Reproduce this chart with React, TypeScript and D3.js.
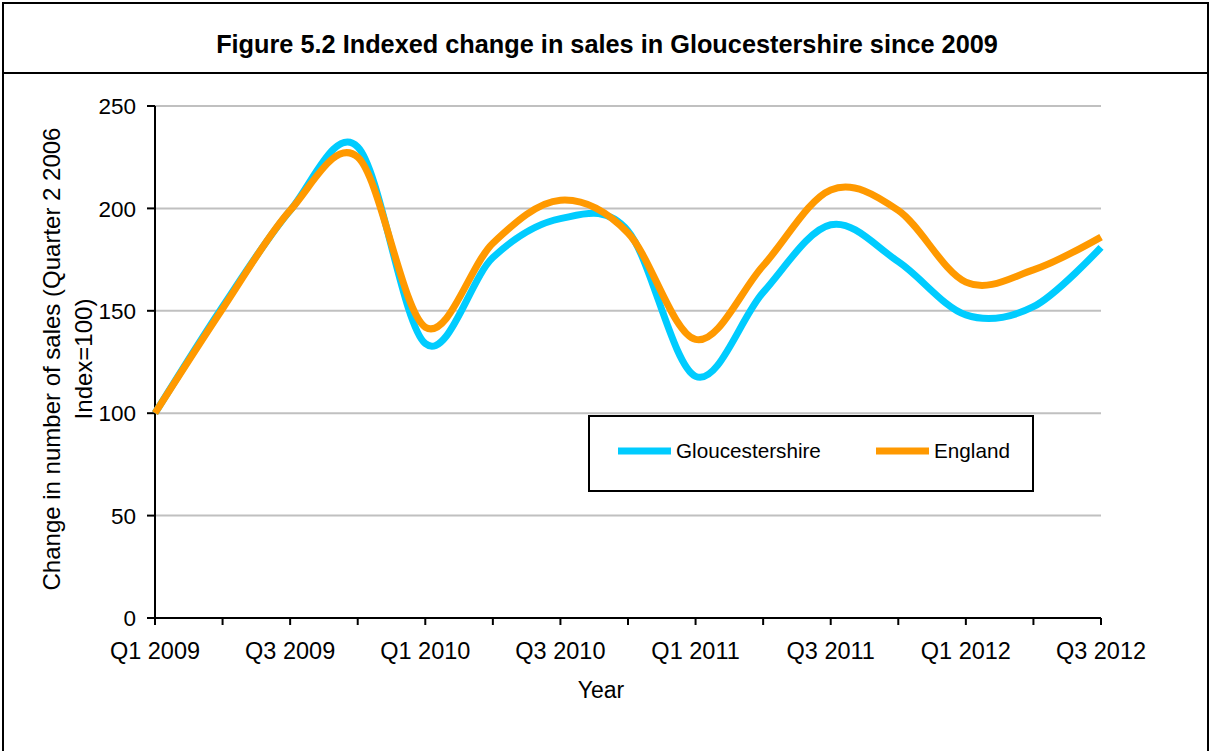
import React from "react";
import * as d3 from "d3";

const quarters = [
  "Q1 2009", "Q2 2009", "Q3 2009", "Q4 2009",
  "Q1 2010", "Q2 2010", "Q3 2010", "Q4 2010",
  "Q1 2011", "Q2 2011", "Q3 2011", "Q4 2011",
  "Q1 2012", "Q2 2012", "Q3 2012",
];
const gloucestershire = [100, 152, 199, 230, 134, 176, 195, 189, 118, 159, 192, 174, 148, 152, 181];
const england = [100, 151, 199, 225, 142, 183, 204, 188, 136, 172, 209, 199, 164, 170, 186];
const yTicks = [0, 50, 100, 150, 200, 250];
const labelledQuarters = ["Q1 2009", "Q3 2009", "Q1 2010", "Q3 2010", "Q1 2011", "Q3 2011", "Q1 2012", "Q3 2012"];

const W = 1211;
const H = 751;
const plot = { left: 155, right: 1101, top: 106, bottom: 618 };
const FONT = "Liberation Sans, Arial, sans-serif";

export default function App() {
  const x = d3.scalePoint<string>().domain(quarters).range([plot.left, plot.right]);
  const y = d3.scaleLinear().domain([0, 250]).range([plot.bottom, plot.top]);
  const line = d3
    .line<number>()
    .x((_, i) => x(quarters[i]) as number)
    .y((d) => y(d))
    .curve(d3.curveCardinal.tension(0));

  const series = [
    { name: "Gloucestershire", values: gloucestershire, color: "#00CCFF" },
    { name: "England", values: england, color: "#FF9900" },
  ];

  return (
    <svg
      width={W}
      height={H}
      style={{ position: "absolute", left: 0, top: 0, background: "#fff" }}
      fontFamily={FONT}
    >
      {/* frame */}
      <rect x={3} y={3} width={1205} height={780} fill="none" stroke="#000" strokeWidth={2} />
      <line x1={3} x2={1208} y1={73} y2={73} stroke="#000" strokeWidth={2} />
      <text x={607} y={53} textAnchor="middle" fontWeight="bold" fontSize={25.3}>
        Figure 5.2 Indexed change in sales in Gloucestershire since 2009
      </text>

      {/* gridlines */}
      {yTicks.filter((t) => t > 0).map((t) => (
        <line key={t} x1={plot.left} x2={plot.right} y1={y(t)} y2={y(t)} stroke="#C0C0C0" strokeWidth={2} />
      ))}

      {/* y axis */}
      <line x1={plot.left} x2={plot.left} y1={plot.top} y2={plot.bottom} stroke="#000" strokeWidth={2} />
      {yTicks.map((t) => (
        <g key={t}>
          <line x1={plot.left - 8} x2={plot.left} y1={y(t)} y2={y(t)} stroke="#000" strokeWidth={2} />
          <text x={136} y={y(t)} dy="0.36em" textAnchor="end" fontSize={22.5}>
            {t}
          </text>
        </g>
      ))}

      {/* x axis */}
      <line x1={plot.left} x2={plot.right} y1={plot.bottom} y2={plot.bottom} stroke="#000" strokeWidth={2} />
      {quarters.map((q) => (
        <line key={q} x1={x(q)} x2={x(q)} y1={plot.bottom} y2={plot.bottom + 7} stroke="#000" strokeWidth={2} />
      ))}
      {labelledQuarters.map((q) => (
        <text key={q} x={x(q)} y={659} textAnchor="middle" fontSize={23.5}>
          {q}
        </text>
      ))}
      <text x={601} y={698} textAnchor="middle" fontSize={23}>
        Year
      </text>

      {/* y title */}
      <text transform="translate(60,359) rotate(-90)" textAnchor="middle" fontSize={24}>
        Change in number of sales (Quarter 2 2006
      </text>
      <text transform="translate(92,359) rotate(-90)" textAnchor="middle" fontSize={24}>
        Index=100)
      </text>

      {/* series */}
      {series.map((s) => (
        <path key={s.name} d={line(s.values) || ""} fill="none" stroke={s.color} strokeWidth={7} strokeLinejoin="round" />
      ))}

      {/* legend */}
      <rect x={589} y={416} width={444} height={75} fill="#fff" stroke="#000" strokeWidth={2} />
      <line x1={618} x2={671} y1={451} y2={451} stroke="#00CCFF" strokeWidth={7} />
      <text x={676} y={451} dy="0.36em" fontSize={20.7}>Gloucestershire</text>
      <line x1={876} x2={929} y1={451} y2={451} stroke="#FF9900" strokeWidth={7} />
      <text x={934} y={451} dy="0.36em" fontSize={20.7}>England</text>
    </svg>
  );
}
